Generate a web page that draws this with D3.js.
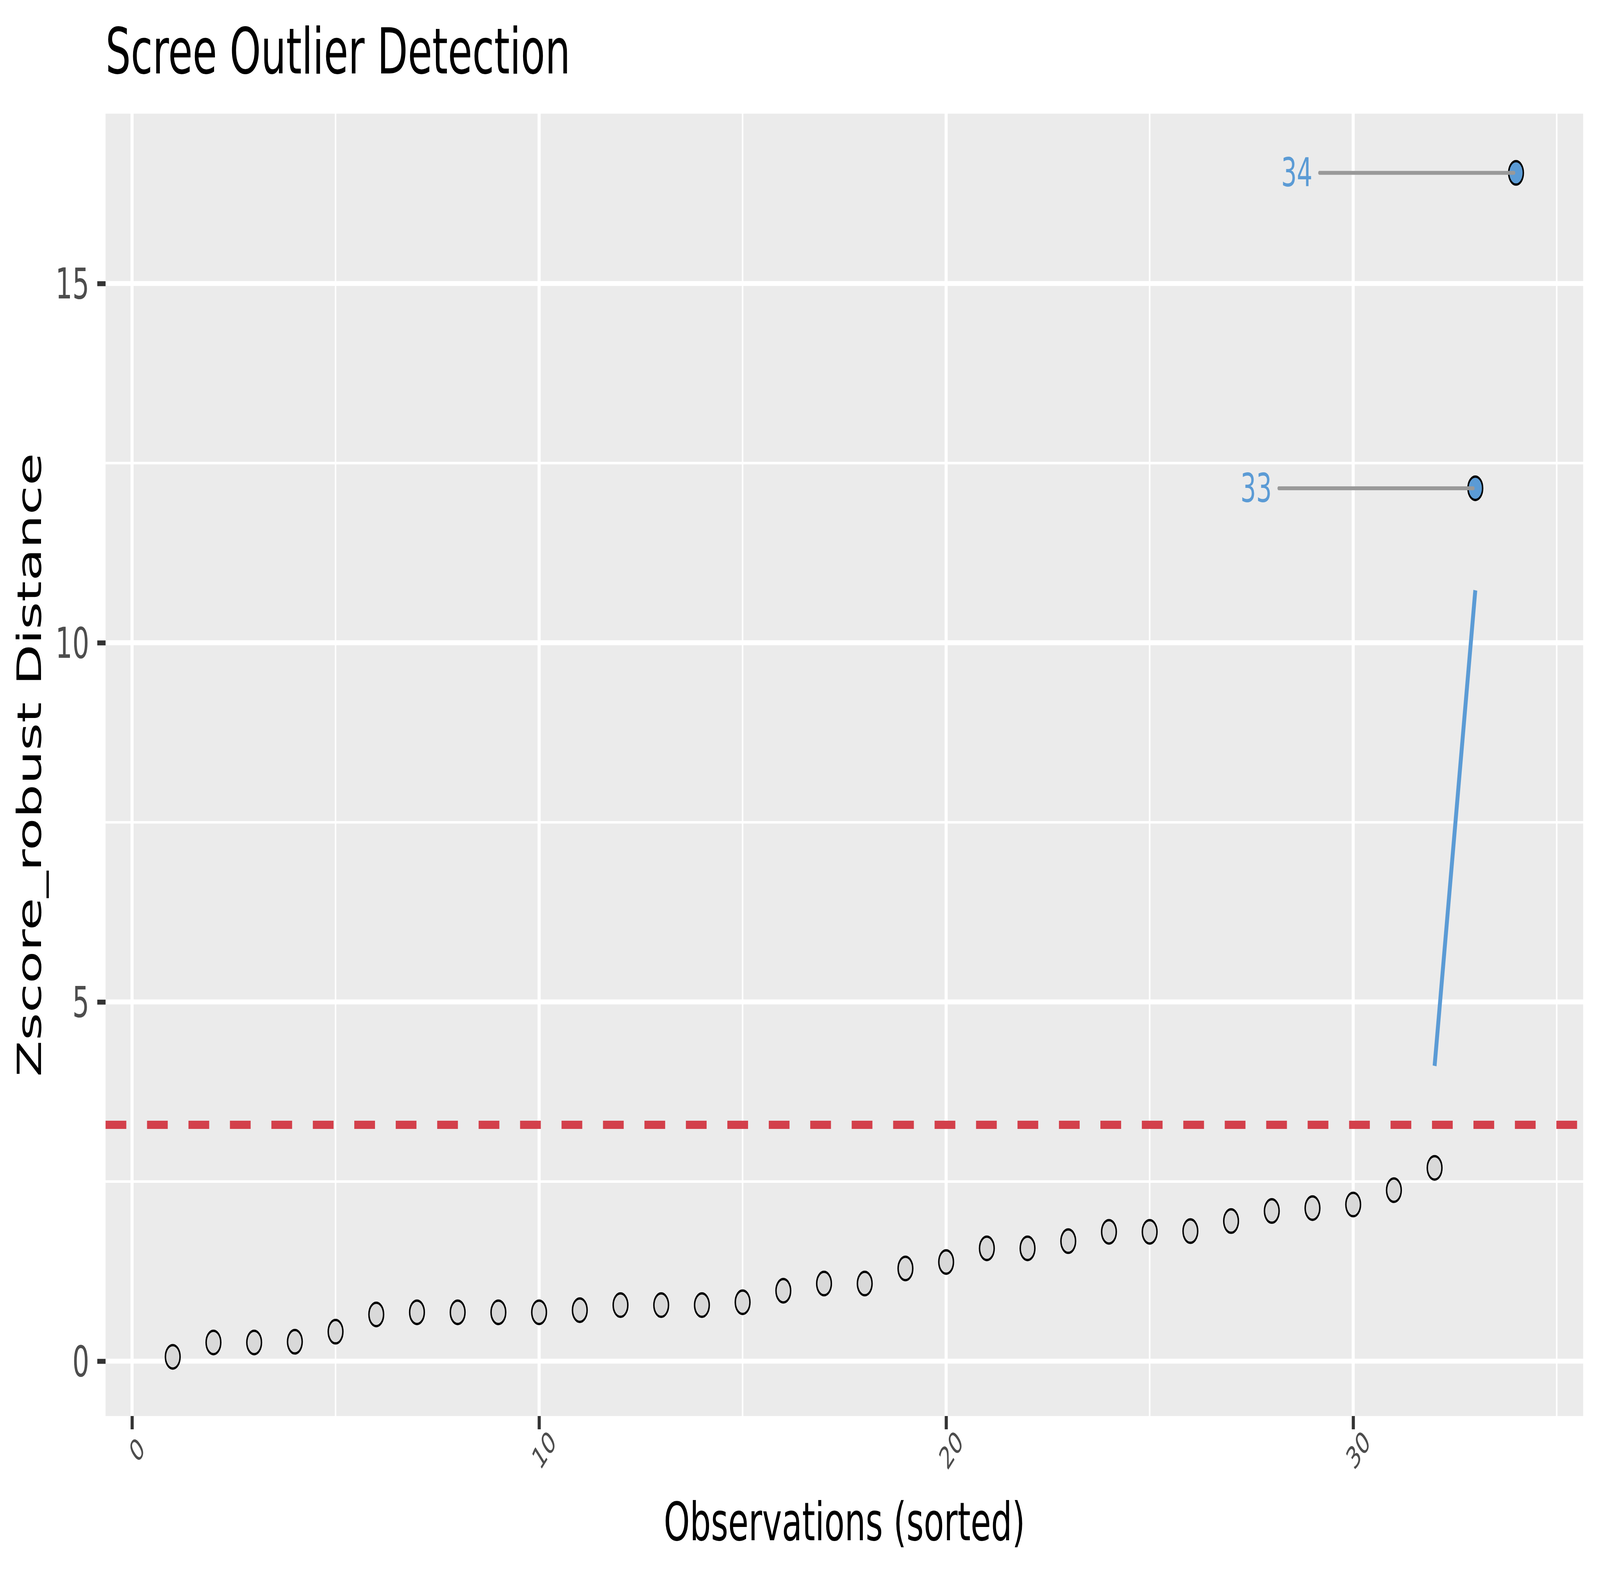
<!DOCTYPE html>
<html>
<head>
<meta charset="utf-8">
<script src="https://cdn.jsdelivr.net/npm/d3@7"></script>
<style>
  html, body { margin: 0; padding: 0; background: #fff; width: 100%; height: 100%; overflow: hidden; }
  svg { display: block; width: 100vw; height: 100vh; font-family: "DejaVu Sans", sans-serif; }
</style>
</head>
<body>
<div id="chart"></div>
<script>
// ---- data ----
const observations = d3.range(1, 35);
const distances = [0.06, 0.26, 0.26, 0.27, 0.41, 0.65, 0.68, 0.68, 0.68, 0.68,
                   0.71, 0.78, 0.78, 0.78, 0.82, 0.98, 1.08, 1.08, 1.29, 1.38,
                   1.57, 1.57, 1.67, 1.80, 1.80, 1.81, 1.95, 2.09, 2.13, 2.18,
                   2.38, 2.69, 12.15, 16.54];
const threshold = 3.29;
const gapX = [32, 33];
const gapY = [4.11, 10.73];
const labelNudge = -5;
const xTicks = [0, 10, 20, 30];
const xMinor = [5, 15, 25, 35];
const yTicks = [0, 5, 10, 15];
const yMinor = [2.5, 7.5, 12.5];

const data = observations.map((o, i) => ({ obs: o, dist: distances[i] }));
const outliers = data.filter(d => d.dist > threshold);

// ---- layout (reference pixel units; the viewBox stretches it over the window) ----
const W = 6562, H = 4055;
const panel = { left: 433, right: 6493, top: 291, bottom: 3625 };

const svg = d3.select("#chart").append("svg")
  .attr("viewBox", `0 0 ${W} ${H}`)
  .attr("preserveAspectRatio", "none");

svg.append("rect").attr("width", W).attr("height", H).attr("fill", "#fff");

// ggplot-style 5% expansion
const expand = ext => { const p = (ext[1] - ext[0]) * 0.05; return [ext[0] - p, ext[1] + p]; };

const x = d3.scaleLinear()
  .domain(expand(d3.extent(observations)))
  .range([panel.left, panel.right]);
const y = d3.scaleLinear()
  .domain(expand(d3.extent(distances)))
  .range([panel.bottom, panel.top]);

// panel background
svg.append("rect")
  .attr("x", panel.left).attr("y", panel.top)
  .attr("width", panel.right - panel.left)
  .attr("height", panel.bottom - panel.top)
  .attr("fill", "#ebebeb");

const grid = svg.append("g");
// minor grid
grid.selectAll(".vmin").data(xMinor.filter(v => x(v) <= panel.right)).enter().append("line")
  .attr("x1", d => x(d)).attr("x2", d => x(d))
  .attr("y1", panel.top).attr("y2", panel.bottom)
  .attr("stroke", "#fff").attr("stroke-width", 6.4);
grid.selectAll(".hmin").data(yMinor).enter().append("line")
  .attr("x1", panel.left).attr("x2", panel.right)
  .attr("y1", d => y(d)).attr("y2", d => y(d))
  .attr("stroke", "#fff").attr("stroke-width", 6.4);
// major grid
grid.selectAll(".vmaj").data(xTicks).enter().append("line")
  .attr("x1", d => x(d)).attr("x2", d => x(d))
  .attr("y1", panel.top).attr("y2", panel.bottom)
  .attr("stroke", "#fff").attr("stroke-width", 12.7);
grid.selectAll(".hmaj").data(yTicks).enter().append("line")
  .attr("x1", panel.left).attr("x2", panel.right)
  .attr("y1", d => y(d)).attr("y2", d => y(d))
  .attr("stroke", "#fff").attr("stroke-width", 12.7);

// threshold line
svg.append("line")
  .attr("x1", panel.left).attr("x2", panel.right)
  .attr("y1", y(threshold)).attr("y2", y(threshold))
  .attr("stroke", "#d3404b").attr("stroke-width", 21)
  .attr("stroke-dasharray", "85,85");

// scree gap
svg.append("line")
  .attr("x1", x(gapX[0])).attr("y1", y(gapY[0]))
  .attr("x2", x(gapX[1])).attr("y2", y(gapY[1]))
  .attr("stroke", "#5b9bd5").attr("stroke-width", 16);

// points
svg.append("g").selectAll("circle").data(data).enter().append("circle")
  .attr("cx", d => x(d.obs)).attr("cy", d => y(d.dist))
  .attr("r", 30)
  .attr("fill", d => d.dist > threshold ? "#5b9bd5" : "#d9d9d9")
  .attr("stroke", "#000").attr("stroke-width", 6);

// outlier labels with leader segments
const lab = svg.append("g");
lab.selectAll("line").data(outliers).enter().append("line")
  .attr("x1", d => x(d.obs + labelNudge + 0.17)).attr("x2", d => x(d.obs) - 8)
  .attr("y1", d => y(d.dist)).attr("y2", d => y(d.dist))
  .attr("stroke", "#999999").attr("stroke-width", 10)
  .attr("stroke-linecap", "round");
lab.selectAll("text").data(outliers).enter().append("text")
  .attr("x", d => x(d.obs + labelNudge))
  .attr("y", d => y(d.dist))
  .attr("text-anchor", "end")
  .attr("dominant-baseline", "central")
  .attr("font-size", 101)
  .attr("fill", "#5b9bd5")
  .text(d => d.obs);

// axes
const xAxis = svg.append("g")
  .attr("transform", `translate(0,${panel.bottom})`)
  .call(d3.axisBottom(x).tickValues(xTicks).tickSize(34).tickFormat(d3.format("d")));
xAxis.select(".domain").remove();
xAxis.selectAll(".tick line").attr("stroke", "#333333").attr("stroke-width", 12.7);
xAxis.selectAll(".tick text")
  .attr("y", null).attr("dy", null)
  .attr("transform", "translate(20,87) rotate(-45)")
  .attr("text-anchor", "middle")
  .attr("dominant-baseline", "central")
  .attr("font-size", 78)
  .attr("font-family", "DejaVu Sans")
  .attr("fill", "#4d4d4d");

const yAxis = svg.append("g")
  .attr("transform", `translate(${panel.left},0)`)
  .call(d3.axisLeft(y).tickValues(yTicks).tickSize(34).tickPadding(33).tickFormat(d3.format("d")));
yAxis.select(".domain").remove();
yAxis.selectAll(".tick line").attr("stroke", "#333333").attr("stroke-width", 12.7);
yAxis.selectAll(".tick text")
  .attr("dy", null)
  .attr("dominant-baseline", "central")
  .attr("font-size", 109)
  .attr("font-family", "DejaVu Sans")
  .attr("fill", "#4d4d4d");

// titles
svg.append("text")
  .attr("x", panel.left).attr("y", 188)
  .attr("font-size", 163).attr("fill", "#000")
  .text("Scree Outlier Detection");

svg.append("text")
  .attr("x", (panel.left + panel.right) / 2).attr("y", 3943)
  .attr("text-anchor", "middle")
  .attr("font-size", 136).attr("fill", "#000")
  .text("Observations (sorted)");

svg.append("text")
  .attr("transform", `translate(168,${(panel.top + panel.bottom) / 2}) rotate(-90)`)
  .attr("text-anchor", "middle")
  .attr("font-size", 136).attr("fill", "#000")
  .text("Zscore_robust Distance");
</script>
</body>
</html>
